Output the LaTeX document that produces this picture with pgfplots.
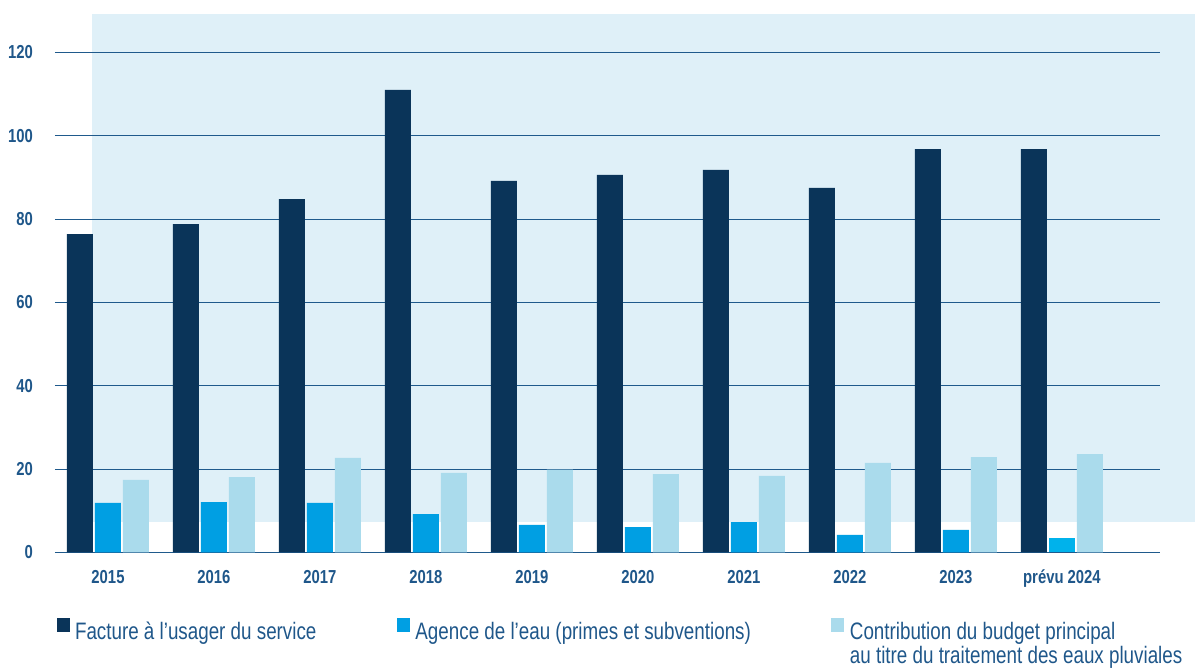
\documentclass[border=0pt]{standalone}
\usepackage{pgfplots}
\pgfplotsset{compat=1.18}
\usepackage{fontspec}
\setmainfont{Liberation Sans}[FakeStretch=0.79]

\definecolor{navy}{RGB}{10,52,89}
\definecolor{midblue}{RGB}{0,159,227}
\definecolor{midblue24}{RGB}{0,178,235}
\definecolor{lightblue}{RGB}{170,219,236}
\definecolor{bgblue}{RGB}{223,240,248}
\definecolor{textc}{RGB}{31,87,138}
\definecolor{gridc}{RGB}{31,90,140}

\begin{document}
\begin{tikzpicture}
\useasboundingbox (0,0) rectangle (597.5pt,334.5pt);
% light panel behind the plot
\fill[bgblue] (46pt,73.5pt) rectangle (597.5pt,327.5pt);

\begin{axis}[
at={(27.5pt,58.25pt)}, anchor=south west,
scale only axis,
width=552.5pt, height=250pt,
xmin=-0.5, xmax=9.925,
ymin=0, ymax=120,
axis line style={draw=none},
tick style={draw=none},
ytick={0,20,...,120},
ymajorgrids,
y grid style={gridc, line width=0.65pt},
xtick={0,...,9},
xticklabels={2015,2016,2017,2018,2019,2020,2021,2022,2023,prévu 2024},
/pgf/number format/assume math mode=true,
ticklabel style={font=\fontsize{9.4}{10}\selectfont\bfseries, text=textc},
xticklabel style={anchor=base, yshift=-15.4pt},
yticklabel style={xshift=-7.5pt},
legend style={
  at={(0.0014,-0.131)}, anchor=north west,
  draw=none, fill=none, inner sep=0pt, outer sep=0pt,
  font=\fontsize{11.9}{11.7}\selectfont, text=textc,
  nodes={inner sep=1.25pt},
  /tikz/every even column/.append style={column sep=39pt},
},
legend columns=3,
legend cell align=left,
legend image code/.code={\fill[#1] (0pt,0pt) rectangle (6.5pt,7pt); \path (8pt,0pt);},
]
\addplot[ybar, bar width=13pt, bar shift=-14pt, fill=navy, draw=none]
coordinates {(0,76.4) (1,78.8) (2,84.8) (3,111.0) (4,89.2) (5,90.6) (6,91.8) (7,87.5) (8,96.8) (9,96.8)};
\addlegendentry{Facture à l’usager du service}
\addplot[ybar, bar width=13pt, bar shift=0pt, fill=midblue, draw=none]
coordinates {(0,11.9) (1,12.1) (2,11.9) (3,9.2) (4,6.6) (5,6.1) (6,7.3) (7,4.2) (8,5.4)};
\addlegendentry{Agence de l’eau (primes et subventions)}
\addplot[ybar, bar width=13pt, bar shift=14pt, fill=lightblue, draw=none]
coordinates {(0,17.4) (1,18.1) (2,22.7) (3,19.1) (4,19.9) (5,18.8) (6,18.4) (7,21.5) (8,22.9) (9,23.6)};
\addlegendentry{\begin{tabular}[t]{@{}l@{}}Contribution du budget principal\\au titre du traitement des eaux pluviales\end{tabular}}
\addplot[ybar, bar width=13pt, bar shift=0pt, fill=midblue24, draw=none, forget plot]
coordinates {(9,3.5)};
\end{axis}
\end{tikzpicture}
\end{document}
